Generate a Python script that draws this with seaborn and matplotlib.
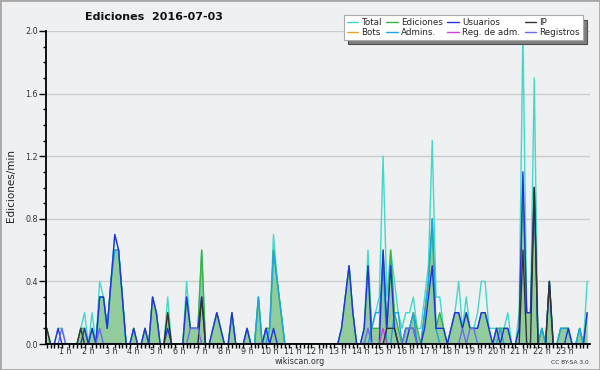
import numpy as np
import pandas as pd
import matplotlib
matplotlib.use("Agg")
import matplotlib.pyplot as plt
from matplotlib.lines import Line2D
from matplotlib.patches import Rectangle
import seaborn as sns

# ---- data: edits per minute, 10-minute buckets (144 per day) ----
total = [
    .1, 0, 0, .1, .1, 0, 0, 0, 0, .1, .2, 0,
    .2, 0, .4, .3, .1, .4, .7, .6, .3, 0, 0, .1,
    0, 0, .1, 0, .3, .2, 0, 0, .3, 0, 0, 0,
    0, .4, .1, .1, .1, .6, 0, 0, .1, .2, .1, 0,
    0, .2, 0, 0, 0, .1, 0, 0, .3, 0, .1, .1,
    .7, .4, .2, 0, 0, 0, 0, 0, 0, 0, 0, 0,
    0, 0, 0, 0, 0, 0, .1, .3, .5, .2, 0, 0,
    .1, .6, .1, .2, .3, 1.2, .3, .6, .4, .2, .1, .2,
    .2, .3, .1, .1, .3, .5, 1.3, .3, .3, .1, 0, .1,
    .2, .4, .1, .3, .1, .1, .2, .4, .4, .1, .1, .1,
    .1, .1, .2, 0, 0, .2, 2.0, .2, .2, 1.7, 0, .1,
    0, .4, 0, 0, .1, .1, .1, 0, 0, .1, 0, .4,
]
ediciones = [
    .1, 0, 0, 0, 0, 0, 0, 0, 0, .1, .1, 0,
    .1, 0, .3, .3, .1, .4, .6, .6, .3, 0, 0, .1,
    0, 0, .1, 0, .3, .2, 0, 0, .2, 0, 0, 0,
    0, .3, .1, .1, .1, .6, 0, 0, .1, .2, .1, 0,
    0, .2, 0, 0, 0, .1, 0, 0, .3, 0, .1, .1,
    .6, .4, .2, 0, 0, 0, 0, 0, 0, 0, 0, 0,
    0, 0, 0, 0, 0, 0, .1, .3, .5, .2, 0, 0,
    .1, .5, .1, .1, .1, .6, .1, .6, .2, .1, 0, .1,
    .1, .2, .1, 0, .2, .4, .8, .1, .2, .1, 0, .1,
    .2, .2, .1, .2, .1, .1, .1, .2, .2, .1, 0, .1,
    .1, .1, .1, 0, 0, .1, 1.0, .2, .2, 1.0, 0, .1,
    0, .4, 0, 0, .1, .1, .1, 0, 0, .1, 0, .2,
]
usuarios = [
    0, 0, 0, .1, 0, 0, 0, 0, 0, 0, .1, 0,
    .1, 0, .3, .3, .1, .4, .7, .6, .3, 0, 0, .1,
    0, 0, .1, 0, .3, .2, 0, 0, .1, 0, 0, 0,
    0, .3, .1, .1, .1, .3, 0, 0, .1, .2, .1, 0,
    0, .2, 0, 0, 0, .1, 0, 0, 0, 0, .1, 0,
    .1, 0, 0, 0, 0, 0, 0, 0, 0, 0, 0, 0,
    0, 0, 0, 0, 0, 0, .1, .3, .5, .2, 0, 0,
    .1, .5, 0, 0, 0, .6, .1, .5, .1, 0, 0, 0,
    .1, .1, 0, 0, .1, .3, .5, .1, .1, .1, 0, .1,
    .2, .2, .1, .2, .1, .1, .1, .2, .2, .1, 0, .1,
    0, .1, .1, 0, 0, .1, 1.1, .2, .2, 1.0, 0, 0,
    0, .4, 0, 0, 0, 0, .1, 0, 0, 0, 0, .2,
]
admins = [
    0, 0, 0, 0, 0, 0, 0, 0, 0, 0, 0, 0,
    0, 0, .3, .3, .1, .4, .6, .6, .3, 0, 0, 0,
    0, 0, 0, 0, 0, 0, 0, 0, 0, 0, 0, 0,
    0, 0, 0, 0, 0, 0, 0, 0, 0, 0, 0, 0,
    0, 0, 0, 0, 0, 0, 0, 0, .3, 0, 0, .1,
    .6, .4, .2, 0, 0, 0, 0, 0, 0, 0, 0, 0,
    0, 0, 0, 0, 0, 0, 0, 0, 0, 0, 0, 0,
    0, 0, .1, .2, .2, .5, 0, 0, .2, .2, 0, .1,
    .1, .2, 0, 0, .2, .4, .8, .1, 0, 0, 0, 0,
    0, 0, 0, 0, 0, 0, 0, 0, 0, 0, 0, 0,
    .1, 0, 0, 0, 0, 0, 0, 0, 0, 0, 0, .1,
    0, 0, 0, 0, .1, .1, .1, 0, 0, .1, 0, 0,
]
ip = [
    .1, 0, 0, 0, 0, 0, 0, 0, 0, .1, 0, 0,
    0, 0, 0, 0, 0, 0, 0, 0, 0, 0, 0, 0,
    0, 0, 0, 0, 0, 0, 0, 0, .2, 0, 0, 0,
    0, 0, 0, 0, 0, .3, 0, 0, 0, 0, 0, 0,
    0, 0, 0, 0, 0, 0, 0, 0, 0, 0, 0, 0,
    0, 0, 0, 0, 0, 0, 0, 0, 0, 0, 0, 0,
    0, 0, 0, 0, 0, 0, 0, 0, 0, 0, 0, 0,
    0, 0, 0, 0, 0, 0, .1, .1, .1, 0, 0, 0,
    0, 0, 0, 0, 0, 0, 0, 0, 0, 0, 0, 0,
    0, 0, 0, 0, 0, 0, 0, 0, 0, 0, 0, 0,
    0, 0, 0, 0, 0, 0, .6, 0, 0, 1.0, 0, 0,
    0, .4, 0, 0, 0, 0, 0, 0, 0, 0, 0, 0,
]
registros = [
    0, 0, 0, 0, .1, 0, 0, 0, 0, 0, 0, 0,
    0, 0, .1, 0, 0, 0, 0, 0, 0, 0, 0, 0,
    0, 0, 0, 0, 0, 0, 0, 0, 0, 0, 0, 0,
    0, 0, .1, .1, .1, 0, 0, 0, 0, 0, 0, 0,
    0, 0, 0, 0, 0, 0, 0, 0, 0, 0, 0, 0,
    0, 0, 0, 0, 0, 0, 0, 0, 0, 0, 0, 0,
    0, 0, 0, 0, 0, 0, 0, 0, 0, 0, 0, 0,
    0, .1, 0, 0, 0, 0, 0, 0, 0, 0, 0, .1,
    .1, .1, 0, 0, 0, 0, 0, 0, 0, 0, 0, 0,
    0, 0, .1, 0, .1, .1, 0, 0, 0, 0, 0, 0,
    0, 0, 0, 0, 0, 0, 0, 0, 0, 0, 0, 0,
    0, 0, 0, 0, 0, 0, 0, 0, 0, 0, 0, 0,
]
reg_adm = [0] * 89 + [.1] + [0] * 54
bots = [0] * 144

series_names = ["Total", "Bots", "Ediciones", "Admins.", "Usuarios",
                "Reg. de adm.", "IP", "Registros"]
series_vals = [total, bots, ediciones, admins, usuarios, reg_adm, ip, registros]
hour_labels = [f"{h} h" for h in range(1, 24)]

colors = {
    "Total": "#44d8c8",
    "Bots": "#f0a030",
    "Ediciones": "#3cb043",
    "Admins.": "#1aa6df",
    "Usuarios": "#2233dd",
    "Reg. de adm.": "#d040e0",
    "IP": "#333333",
    "Registros": "#6a6af0",
}

slot = np.arange(len(total))
df = pd.concat([pd.DataFrame({"slot": slot, "v": vals, "serie": name})
                for name, vals in zip(series_names, series_vals)],
               ignore_index=True)

sns.set_style("ticks")
plt.rcParams["font.family"] = ["DejaVu Sans"]
bg = "#eef0f2"

fig = plt.figure(figsize=(6, 3.7), dpi=100, facecolor=bg)
ax = fig.add_axes([46 / 600, 26 / 370, 544 / 600, 313 / 370], facecolor=bg)

ax.fill_between(slot, 0, ediciones, color="#93cc9c", lw=0, zorder=1)
sns.lineplot(data=df, x="slot", y="v", hue="serie", hue_order=series_names,
             palette=colors, linewidth=1.0, legend=False, ax=ax,
             estimator=None, sort=False, zorder=2)

ax.set_xlim(-0.2, 143.75)
ax.set_ylim(0, 2.0)
ax.set_xlabel("")
ax.set_ylabel("")

ax.set_yticks(np.arange(0, 2.01, 0.4))
ax.set_yticklabels([f"{v:.1f}" for v in np.arange(0, 2.01, 0.4)], fontsize=5.8,
                   color="#333333")
ax.set_yticks(np.arange(0, 2.01, 0.1), minor=True)
ax.tick_params(axis="y", which="major", length=5, width=1, pad=1,
               color="black")
ax.tick_params(axis="y", which="minor", length=2.5, width=1, color="black")

ax.set_xticks(np.arange(6, 144, 6) - 1)
ax.set_xticklabels(hour_labels, fontsize=5.8, color="#333333")
ax.set_xticks(np.arange(0, 144), minor=True)
ax.tick_params(axis="x", which="major", length=0, pad=2.5)
ax.tick_params(axis="x", which="minor", length=3, width=1, color="black")

ax.grid(axis="y", which="major", color="#cccccc", lw=1)
ax.set_axisbelow(True)
for s in ["top", "right"]:
    ax.spines[s].set_visible(False)
for s in ["left", "bottom"]:
    ax.spines[s].set_linewidth(1.3)
    ax.spines[s].set_color("black")
    ax.spines[s].set_zorder(5)

handles = [Line2D([0], [0], color=colors[n], lw=1) for n in series_names]
leg = fig.legend(handles, series_names, ncol=4, loc="upper right",
                 bbox_to_anchor=(587 / 600, 1 - 11 / 370), fontsize=6.3,
                 frameon=True, fancybox=False, framealpha=1,
                 handlelength=1.3, handletextpad=0.4, columnspacing=0.5,
                 borderpad=0.3, labelspacing=0.1,
                 shadow={"ox": 3, "oy": -3, "facecolor": "#808080", "alpha": 1})
leg.get_frame().set_edgecolor("#aaaaaa")
leg.get_frame().set_linewidth(0.8)

fig.text(154 / 600, 1 - 17 / 370, "Ediciones  2016-07-03", ha="center",
         va="center", fontsize=8, fontweight="bold", color="#111111")
fig.text(11 / 600, 1 - 185 / 370, "Ediciones/min", ha="center", va="center",
         rotation=90, fontsize=7.5, color="#222222")
fig.text(0.5, 1 - 362 / 370, "wikiscan.org", ha="center", va="center",
         fontsize=5.8, color="#333333")
fig.text(589 / 600, 1 - 362 / 370, "CC BY-SA 3.0", ha="right", va="center",
         fontsize=4.2, color="#333333")

fig.patches.append(Rectangle((0, 0), 1, 1, transform=fig.transFigure,
                             fill=False, edgecolor="#a8a8a8", lw=2))

fig.savefig("out.png", dpi=100, facecolor=bg)
